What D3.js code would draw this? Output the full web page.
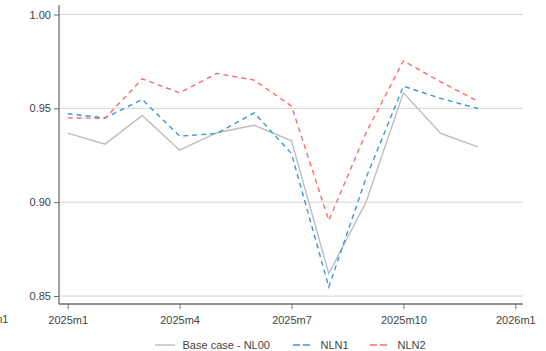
<!DOCTYPE html>
<html>
<head>
<meta charset="utf-8">
<script src="https://cdn.jsdelivr.net/npm/d3@7"></script>
<style>
  body { margin: 0; background: #fff; }
  svg { display: block; font-family: "Liberation Sans", Arial, sans-serif; }
</style>
</head>
<body>
<div id="chart"></div>
<script>
// Data (months 2025m1 .. 2025m12)
const months = ["2025m1","2025m2","2025m3","2025m4","2025m5","2025m6","2025m7","2025m8","2025m9","2025m10","2025m11","2025m12"];
const baseCase = [0.9368, 0.9309, 0.9462, 0.9277, 0.9370, 0.9410, 0.9327, 0.8619, 0.9001, 0.9583, 0.9366, 0.9295];
const nln1 = [0.9471, 0.9449, 0.9547, 0.9352, 0.9366, 0.9476, 0.9259, 0.8548, 0.9130, 0.9618, 0.9553, 0.9499];
const nln2 = [0.9449, 0.9447, 0.9657, 0.9583, 0.9686, 0.9650, 0.9512, 0.8903, 0.9370, 0.9753, 0.9641, 0.9538];
const xTickLabels = ["2025m1","2025m4","2025m7","2025m10","2026m1"];
const xTickIdx = [0, 3, 6, 9, 12];
const yTicks = [0.85, 0.90, 0.95, 1.00];

const W = 546, H = 351;
const svg = d3.select("#chart").append("svg")
    .attr("width", W)
    .attr("height", H);

// Scales (pixel frame)
const x = d3.scaleLinear().domain([0, 12]).range([67.7, 515.3]);
const y = d3.scaleLinear().domain([0.85, 1.00]).range([296, 14.5]);
const plotLeft = 59, plotRight = 523, plotTop = 5, plotBottom = 304;

// Gridlines
svg.append("g")
    .selectAll("line")
    .data(yTicks)
    .enter().append("line")
    .attr("x1", plotLeft).attr("x2", plotRight)
    .attr("y1", d => y(d)).attr("y2", d => y(d))
    .attr("stroke", "#d4d4d4")
    .attr("stroke-width", 1);

// Y axis
const yAxis = svg.append("g")
    .attr("transform", `translate(${plotLeft},0)`)
    .call(d3.axisLeft(y).tickValues(yTicks).tickFormat(d3.format(".2f")).tickSize(5).tickSizeOuter(0));
yAxis.select(".domain").remove();
yAxis.append("line")
    .attr("y1", plotTop).attr("y2", plotBottom)
    .attr("stroke", "#6e6e6e").attr("stroke-width", 1.3);

// X axis
const xAxis = svg.append("g")
    .attr("transform", `translate(0,${plotBottom})`)
    .call(d3.axisBottom(x).tickValues(xTickIdx).tickFormat((d, i) => xTickLabels[i]).tickSize(5).tickSizeOuter(0));
xAxis.select(".domain").remove();
xAxis.append("line")
    .attr("x1", plotLeft).attr("x2", plotRight)
    .attr("stroke", "#6e6e6e").attr("stroke-width", 1.3);

svg.selectAll(".tick line").attr("stroke", "#6e6e6e");
svg.selectAll(".tick text")
    .attr("fill", "#444")
    .style("font-size", "11px");
xAxis.selectAll(".tick text").attr("dy", "1.05em");

// clipped label at the far left edge
svg.append("text")
    .attr("x", 8.5).attr("y", 323)
    .attr("text-anchor", "end")
    .attr("fill", "#444")
    .style("font-size", "11px")
    .text("2024m1");

// Lines
const series = [
    { name: "Base case - NL00", values: baseCase, color: "#bdbdbd", dash: null, width: 1.4 },
    { name: "NLN1", values: nln1, color: "#3a97d2", dash: "5,4", width: 1.4 },
    { name: "NLN2", values: nln2, color: "#fb6a6a", dash: "5,4", width: 1.4 }
];

const line = d3.line()
    .x((d, i) => x(i))
    .y(d => y(d));

svg.append("g")
    .selectAll("path")
    .data(series)
    .enter().append("path")
    .attr("d", d => line(d.values))
    .attr("fill", "none")
    .attr("stroke", d => d.color)
    .attr("stroke-width", d => d.width)
    .attr("stroke-dasharray", d => d.dash);

// Legend
const legendX = [155, 293, 370];
const legend = svg.append("g");
legend.selectAll("line")
    .data(series)
    .enter().append("line")
    .attr("x1", (d, i) => legendX[i]).attr("x2", (d, i) => legendX[i] + 20)
    .attr("y1", 345).attr("y2", 345)
    .attr("stroke", d => d.color)
    .attr("stroke-width", 1.4)
    .attr("stroke-dasharray", d => d.dash ? "7,3" : null);
legend.selectAll("text")
    .data(series)
    .enter().append("text")
    .attr("x", (d, i) => legendX[i] + 27.5)
    .attr("y", 349)
    .attr("fill", "#444")
    .style("font-size", "11px")
    .text(d => d.name);
</script>
</body>
</html>
